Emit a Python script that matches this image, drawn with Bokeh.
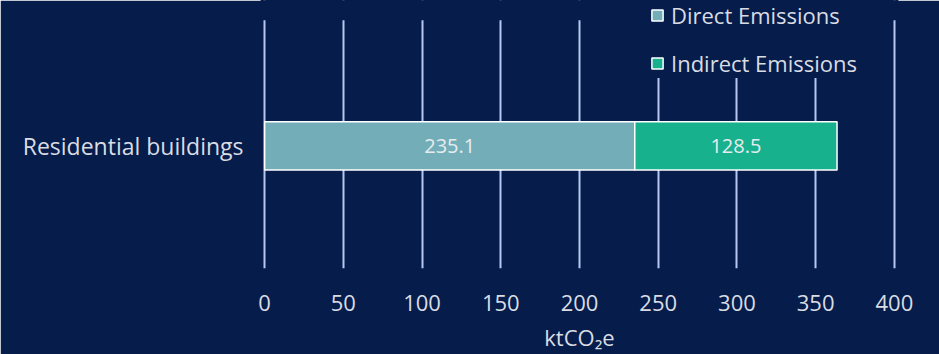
from bokeh.plotting import figure
from bokeh.models import ColumnDataSource, Range1d, Legend, LegendItem, BoxAnnotation
from bokeh.core.properties import value
from bokeh.embed import file_html
from bokeh.resources import INLINE

categories = ["Residential buildings"]
direct = [235.1]
indirect = [128.5]
series_names = ["Direct Emissions", "Indirect Emissions"]
colors = ["#73AEB8", "#17B18E"]
x_ticks = [0, 50, 100, 150, 200, 250, 300, 350, 400]

BG = "#061D4B"
GRID = "#B6C8F2"
TXT = "#D9DCE3"
FONT = "Open Sans"

pos = list(range(len(categories)))
src = ColumnDataSource(dict(
    pos=pos,
    d_left=[0] * len(direct),
    d_right=direct,
    i_left=direct,
    i_right=[a + b for a, b in zip(direct, indirect)],
    d_mid=[a / 2 for a in direct],
    i_mid=[a + b / 2 for a, b in zip(direct, indirect)],
    d_lab=[f"{a:.1f}" for a in direct],
    i_lab=[f"{b:.1f}" for b in indirect],
))

p = figure(width=939, height=354, output_backend="svg", toolbar_location=None,
           y_range=Range1d(-0.496, 0.588), x_range=Range1d(-2, 402),
           background_fill_color=BG, border_fill_color=BG,
           outline_line_color=BG, outline_line_width=2,
           min_border_left=261, min_border_right=42, min_border_top=0, min_border_bottom=82)

r1 = p.hbar(y="pos", left="d_left", right="d_right", height=0.195, source=src,
            fill_color=colors[0], line_color="white", line_width=1.5)
r2 = p.hbar(y="pos", left="i_left", right="i_right", height=0.195, source=src,
            fill_color=colors[1], line_color="white", line_width=1.5)

p.text(x="d_mid", y="pos", text="d_lab", source=src, text_align="center", text_baseline="middle",
       text_font=value(FONT), text_font_size="20px", text_color="#E6ECEE")
p.text(x="i_mid", y="pos", text="i_lab", source=src, text_align="center", text_baseline="middle",
       text_font=value(FONT), text_font_size="20px", text_color="#E6ECEE")

p.xgrid.grid_line_color = GRID
p.xgrid.grid_line_width = 2
p.ygrid.grid_line_color = None
p.xaxis.ticker = x_ticks
p.xaxis.axis_line_color = None
p.xaxis.major_tick_line_color = None
p.xaxis.minor_tick_line_color = None
p.xaxis.major_label_text_font = FONT
p.xaxis.major_label_text_font_size = "22px"
p.xaxis.major_label_text_color = TXT
p.xaxis.major_label_standoff = 20
p.xaxis.axis_label = "ktCO₂e"
p.xaxis.axis_label_text_font = FONT
p.xaxis.axis_label_text_font_size = "22px"
p.xaxis.axis_label_text_font_style = "normal"
p.xaxis.axis_label_text_color = TXT
p.xaxis.axis_label_standoff = 8

p.yaxis.ticker = pos
p.yaxis.major_label_overrides = {i: c for i, c in zip(pos, categories)}
p.yaxis.axis_line_color = None
p.yaxis.major_tick_line_color = None
p.yaxis.minor_tick_line_color = None
p.yaxis.major_label_text_font = FONT
p.yaxis.major_label_text_font_size = "23px"
p.yaxis.major_label_text_color = TXT
p.yaxis.major_label_standoff = 12

# top band above the grid (grid lines start below it)
p.add_layout(BoxAnnotation(bottom=0.508, fill_color=BG, fill_alpha=1.0, line_color=None, level="underlay"))

legend = Legend(items=[LegendItem(label=series_names[0], renderers=[r1]),
                       LegendItem(label=series_names[1], renderers=[r2])],
                location=(389, 190), orientation="vertical",
                background_fill_color=BG, background_fill_alpha=1.0,
                border_line_color=None, padding=6, margin=0, spacing=18,
                glyph_width=14, glyph_height=14, label_standoff=7,
                label_text_font=FONT, label_text_font_size="22px", label_text_color=TXT)
p.add_layout(legend, "center")

open("out.html", "w").write(file_html(p, INLINE))
